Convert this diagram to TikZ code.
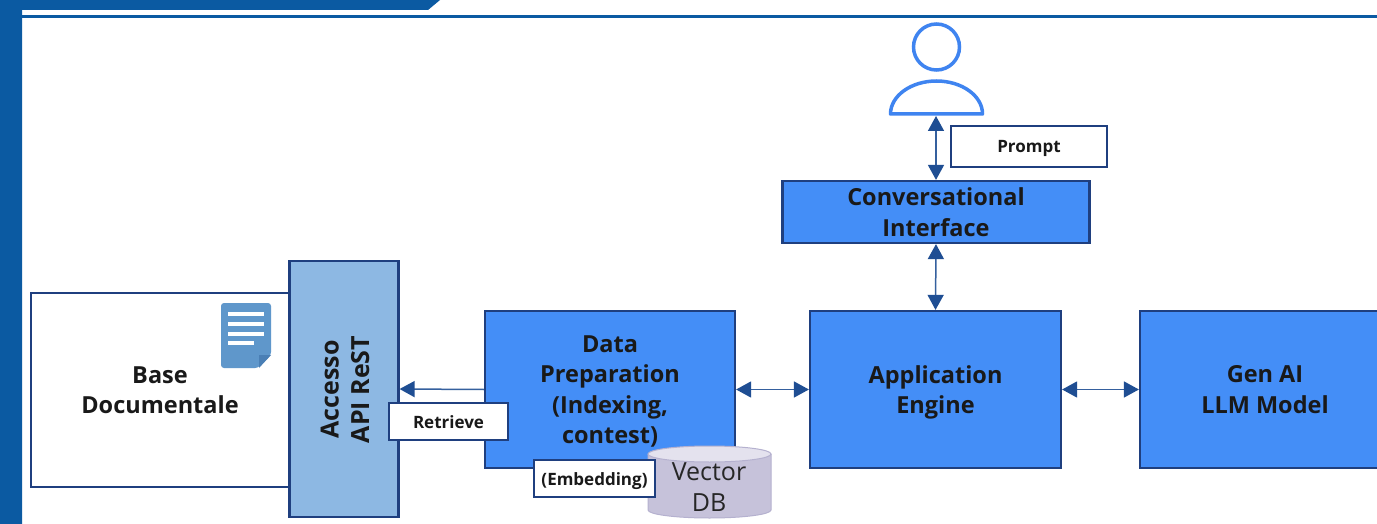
\documentclass[tikz,border=0pt]{standalone}
\usepackage{fontspec}
\setmainfont{Open Sans}
\usetikzlibrary{arrows.meta}
\definecolor{barblue}{HTML}{0B5AA2}
\definecolor{edge}{HTML}{1F3F7F}
\definecolor{boxblue}{HTML}{448EF7}
\definecolor{apiblue}{HTML}{8DB8E3}
\definecolor{iconblue}{HTML}{5F97CB}
\definecolor{iconfold}{HTML}{4A7FB5}
\definecolor{arrowblue}{HTML}{1F4E93}
\definecolor{personblue}{HTML}{3F84F0}
\definecolor{cylbody}{HTML}{C6C2DA}
\definecolor{cyltop}{HTML}{E4E2EE}
\definecolor{cyledge}{HTML}{B5B1CF}
\tikzset{
  x=1pt,y=-1pt,
  boxbase/.style={draw=edge,line width=2.2pt,inner sep=0pt,align=center,text depth=0pt,font=\fontsize{23.5}{30.5}\selectfont\bfseries,text=black!90},
  bluebox/.style={boxbase,fill=boxblue},
  whitebox/.style={boxbase,fill=white},
  apibox/.style={boxbase,fill=apiblue},
  tagbox/.style={draw=edge,line width=2.2pt,fill=white,inner sep=0pt,align=center,text height=17pt,text depth=4pt,font=\fontsize{17}{19}\selectfont\bfseries,text=black!90},
  link/.style={draw=arrowblue!90!white,line width=1.5pt,{Triangle[length=15pt,width=16pt,color=arrowblue]}-{Triangle[length=15pt,width=16pt,color=arrowblue]}},
  linkone/.style={draw=arrowblue!90!white,line width=1.5pt,-{Triangle[length=15pt,width=16pt,color=arrowblue]}},
}
\begin{document}
\begin{tikzpicture}
\useasboundingbox (0,0) rectangle (1377,524);
\clip (0,0) rectangle (1377,524);
\fill[white] (0,0) rectangle (1377,524);
% frame
\fill[barblue] (0,0) -- (440,0) -- (428,10) -- (22,10) -- (22,524) -- (0,524) -- cycle;
\fill[barblue] (22,15) rectangle (1377,18);
% boxes
\node[whitebox,minimum width=258pt,minimum height=194pt] (base) at (160,390) {Base\\Documentale};
\node[apibox,minimum width=109pt,minimum height=256pt] (api) at (344,389) {};
\node[rotate=90,align=center,text depth=0pt,font=\fontsize{25}{30.5}\selectfont\bfseries,text=black!90] (apitext) at (345,389.5) {Accesso\\API ReST};
\node[bluebox,minimum width=250pt,minimum height=157pt] (data) at (610,389.5) {Data\\Preparation\\(Indexing,\\contest)};
\node[bluebox,minimum width=251pt,minimum height=157pt] (app) at (935.5,389.5) {Application\\Engine};
\node[bluebox,minimum width=250pt,minimum height=157pt] (gen) at (1265,389.5) {Gen AI\\LLM Model};
\node[bluebox,minimum width=307pt,minimum height=62pt] (conv) at (936,212) {Conversational\\Interface};
% document icon
\fill[iconblue,rounded corners=3pt] (221,303) -- (271,303) -- (271,355) -- (258,368) -- (221,368) -- cycle;
\fill[iconfold] (259,355) -- (271,355) -- (259,368) -- cycle;
\foreach \ly/\lx in {314/264,324/264,334/264,343/254}
  \fill[white] (228,\ly-2) rectangle (\lx,\ly+2);
% person
\node[circle,draw=personblue,line width=3.5pt,minimum size=46pt,inner sep=0pt] (head) at (936.5,47) {};
\draw[personblue,line width=3.5pt,line join=round] (890.5,114) arc[start angle=180,end angle=360,x radius=46,y radius=33] -- cycle;
\coordinate (feet) at (936,116);
% cylinder
\fill[cylbody] (648,454) -- (648,510) arc[start angle=180,end angle=0,x radius=61.5,y radius=8] -- (771,454) -- cycle;
\draw[cyledge,line width=1pt] (648,454) -- (648,510) arc[start angle=180,end angle=0,x radius=61.5,y radius=8] -- (771,454);
\draw[cyledge,line width=1pt,fill=cyltop] (709.5,454) ellipse[x radius=61.5,y radius=8];
\node[align=center,font=\fontsize{25}{30.5}\selectfont,text=black!85] (vdbtext) at (709,487) {Vector\\DB};
% connectors
\draw[linkone] (data.west) -- (api.east);
\draw[link] (data.east) -- (app.west);
\draw[link] (app.east) -- (gen.west);
\draw[link] (app.north) -- (conv.south);
\draw[link] (conv.north) -- (feet);
% tags
\node[tagbox,minimum width=156pt,minimum height=41pt] (prompt) at (1029,146.5) {Prompt};
\node[tagbox,minimum width=119pt,minimum height=37pt] (retrieve) at (448.5,421.5) {Retrieve};
\node[tagbox,minimum width=121pt,minimum height=37pt] (embed) at (594.5,478.5) {(Embedding)};
\end{tikzpicture}
\end{document}
